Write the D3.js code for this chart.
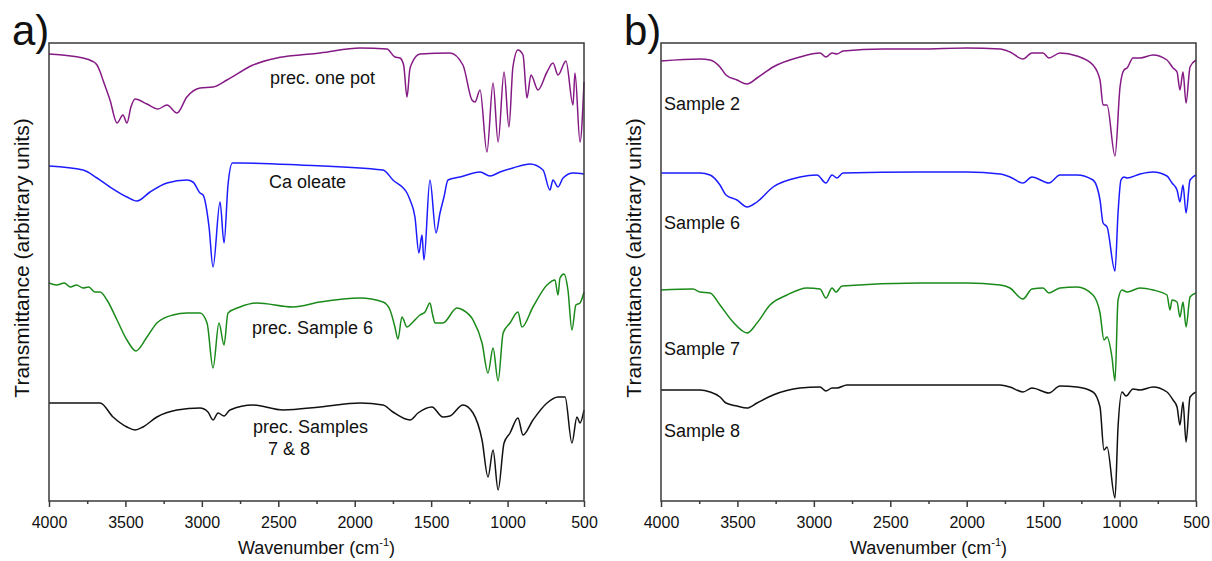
<!DOCTYPE html>
<html>
<head>
<meta charset="utf-8">
<script src="https://cdn.jsdelivr.net/npm/d3@7"></script>
<style>
  body { margin: 0; background: #fff; }
  svg { display: block; font-family: "Liberation Sans", Arial, sans-serif; }
</style>
</head>
<body>
<div id="chart"></div>
<script>
// x ticks shared by both panels
const majorTicks = [4000, 3500, 3000, 2500, 2000, 1500, 1000, 500];
const minorTicks = [3750, 3250, 2750, 2250, 1750, 1250, 750];

// ---- panel a: precursors ----
const onePotWn = [4000, 3777, 3720, 3686, 3665, 3647, 3601, 3555, 3516, 3490, 3464, 3437, 3359, 3287, 3228, 3163, 3098, 3012, 2927, 2836, 2665, 2509, 2358, 2227, 1965, 1789, 1737, 1704, 1680, 1658, 1640, 1625, 1573, 1377, 1292, 1233, 1213, 1180, 1135, 1095, 1062, 1023, 991, 965, 932, 899, 873, 847, 801, 742, 703, 670, 618, 572, 559, 526, 500];
const onePotT = [44.7, 44.3, 44.0, 43.6, 42.9, 42.1, 40.1, 37.8, 38.6, 37.8, 39.4, 40.2, 39.7, 39.2, 39.6, 38.8, 40.4, 41.3, 41.4, 42.1, 43.6, 44.3, 44.6, 44.8, 45.3, 45.2, 44.4, 44.3, 43.6, 40.4, 43.1, 43.8, 44.7, 44.8, 43.6, 40.1, 39.9, 41.1, 34.9, 41.8, 35.9, 42.9, 37.4, 43.4, 45.1, 44.6, 40.3, 42.6, 41.1, 42.9, 43.8, 42.6, 44.0, 39.6, 42.8, 35.9, 41.9];

const oleateWn = [4000, 3777, 3686, 3601, 3490, 3425, 3339, 3228, 3098, 3058, 3012, 2992, 2953, 2927, 2881, 2855, 2829, 2800, 2750, 2358, 1815, 1750, 1658, 1638, 1606, 1580, 1560, 1547, 1508, 1468, 1442, 1416, 1390, 1311, 1180, 1115, 1050, 965, 853, 768, 723, 703, 670, 637, 572, 500];
const oleateT = [33.5, 33.1, 32.3, 31.4, 30.4, 30.0, 30.9, 31.8, 32.1, 31.9, 30.8, 30.6, 27.4, 23.4, 29.9, 25.8, 31.6, 33.8, 33.8, 33.6, 33.1, 32.1, 30.8, 30.1, 28.4, 24.8, 26.6, 24.1, 32.1, 26.8, 28.8, 30.4, 32.1, 32.4, 32.9, 32.5, 32.9, 33.3, 33.7, 33.1, 31.1, 32.1, 31.4, 32.3, 32.8, 32.7];

const precS6Wn = [4000, 3950, 3900, 3860, 3820, 3777, 3740, 3700, 3666, 3621, 3555, 3490, 3431, 3359, 3294, 3189, 3098, 3012, 2966, 2927, 2888, 2855, 2829, 2751, 2640, 2404, 2227, 1965, 1815, 1769, 1737, 1717, 1691, 1658, 1625, 1573, 1540, 1508, 1490, 1475, 1423, 1331, 1292, 1226, 1167, 1128, 1095, 1062, 1029, 984, 932, 906, 834, 742, 690, 670, 657, 631, 605, 579, 553, 526, 500];
const precS6T = [21.8, 21.6, 21.8, 21.4, 21.6, 21.3, 21.4, 20.9, 20.9, 20.1, 18.1, 16.1, 15.0, 16.4, 17.8, 18.6, 18.8, 18.8, 17.8, 13.3, 17.8, 15.6, 18.8, 19.4, 19.8, 19.4, 19.9, 20.3, 19.9, 19.1, 17.4, 16.2, 18.4, 17.4, 17.8, 18.6, 18.9, 19.8, 18.6, 17.8, 17.8, 19.3, 19.1, 18.1, 15.8, 12.8, 15.3, 12.0, 16.8, 17.8, 18.9, 17.4, 19.4, 21.6, 22.1, 20.6, 22.3, 22.7, 21.1, 17.1, 19.6, 19.8, 20.9];

const precS78Wn = [4000, 3777, 3666, 3581, 3490, 3437, 3385, 3294, 3163, 3012, 2960, 2927, 2894, 2855, 2816, 2665, 2469, 2227, 1965, 1815, 1750, 1638, 1586, 1495, 1423, 1377, 1292, 1226, 1167, 1128, 1095, 1062, 1023, 984, 932, 899, 834, 742, 670, 624, 579, 546, 526, 500];
const precS78T = [9.8, 9.8, 9.8, 8.4, 7.4, 7.1, 7.4, 8.4, 9.1, 9.3, 8.9, 8.1, 8.8, 8.5, 9.1, 9.6, 9.1, 9.4, 9.8, 9.6, 8.9, 8.1, 8.8, 9.4, 8.4, 8.5, 9.6, 8.8, 6.1, 2.4, 5.1, 1.1, 5.8, 6.8, 8.3, 6.6, 8.1, 9.8, 10.4, 10.4, 5.8, 8.4, 7.8, 9.1];

// ---- panel b: samples ----
const s2Wn = [4000, 3745, 3679, 3614, 3575, 3503, 3437, 3372, 3267, 3091, 2960, 2921, 2881, 2849, 2809, 2548, 2306, 2000, 1782, 1717, 1632, 1573, 1501, 1462, 1390, 1279, 1174, 1128, 1108, 1082, 1030, 997, 971, 951, 912, 866, 781, 690, 650, 624, 605, 585, 565, 539, 500];
const s2T = [44.0, 44.2, 44.1, 43.4, 42.6, 42.1, 41.7, 42.3, 43.4, 44.4, 44.8, 44.4, 44.8, 44.7, 45.0, 45.2, 45.2, 45.3, 45.2, 44.9, 44.2, 44.8, 44.8, 44.3, 44.8, 44.5, 43.6, 42.1, 39.6, 39.6, 34.5, 41.4, 43.1, 43.3, 44.3, 44.3, 44.6, 44.1, 43.3, 42.9, 41.1, 42.9, 39.8, 43.4, 44.1];

const s6Wn = [4000, 3745, 3679, 3614, 3575, 3503, 3437, 3372, 3267, 3091, 2979, 2921, 2881, 2849, 2809, 2306, 2000, 1782, 1717, 1632, 1573, 1462, 1390, 1279, 1174, 1128, 1108, 1082, 1030, 1010, 991, 971, 951, 866, 781, 690, 657, 624, 605, 585, 565, 539, 500];
const s6T = [32.8, 32.8, 32.6, 31.6, 30.6, 30.1, 29.4, 29.9, 31.4, 32.4, 32.6, 31.8, 32.6, 32.3, 32.8, 32.9, 32.9, 32.7, 32.4, 31.8, 32.4, 31.8, 32.6, 32.6, 32.1, 30.1, 27.8, 27.4, 23.0, 28.8, 32.1, 32.4, 32.3, 32.7, 32.9, 32.5, 31.8, 31.1, 29.9, 31.6, 28.8, 32.1, 32.6];

const s7Wn = [4000, 3791, 3745, 3679, 3614, 3529, 3437, 3372, 3287, 3176, 3045, 2960, 2921, 2881, 2855, 2816, 2306, 2000, 1782, 1717, 1632, 1573, 1501, 1462, 1390, 1279, 1174, 1128, 1102, 1082, 1050, 1030, 1010, 984, 951, 866, 781, 690, 670, 657, 624, 605, 585, 565, 539, 500];
const s7T = [21.1, 21.2, 20.9, 20.8, 19.6, 17.9, 16.8, 17.8, 19.6, 20.6, 21.3, 21.2, 20.3, 21.3, 20.9, 21.5, 21.8, 21.8, 21.6, 21.3, 20.2, 21.2, 21.3, 20.8, 21.3, 21.4, 20.6, 18.8, 16.1, 16.4, 14.4, 12.0, 20.1, 21.1, 20.9, 21.3, 21.1, 20.6, 19.1, 20.1, 19.9, 18.4, 19.9, 17.4, 20.4, 20.8];

const s8Wn = [4000, 3745, 3679, 3614, 3575, 3503, 3437, 3372, 3267, 3091, 2960, 2921, 2881, 2849, 2783, 2306, 1782, 1717, 1632, 1573, 1462, 1390, 1279, 1174, 1128, 1102, 1082, 1030, 1010, 984, 958, 912, 866, 781, 690, 650, 624, 605, 585, 565, 539, 500];
const s8T = [11.1, 11.1, 10.9, 10.4, 9.8, 9.5, 9.3, 9.8, 10.6, 11.3, 11.4, 11.0, 11.3, 11.3, 11.6, 11.6, 11.6, 11.4, 10.9, 11.3, 10.8, 11.5, 11.4, 10.9, 9.4, 5.1, 5.4, 0.3, 7.4, 10.9, 10.5, 11.2, 11.1, 11.4, 10.9, 10.1, 9.4, 7.6, 9.9, 5.9, 10.4, 10.9];

const colors = { purple: "#851a85", blue: "#1c1cff", green: "#1a8a1a", black: "#111111" };

const panelA = {
  letter: "a)", left: 49,
  series: [
    { wn: onePotWn, t: onePotT, color: colors.purple },
    { wn: oleateWn, t: oleateT, color: colors.blue },
    { wn: precS6Wn, t: precS6T, color: colors.green },
    { wn: precS78Wn, t: precS78T, color: colors.black }
  ],
  labels: [
    { lines: ["prec. one pot"], x: 270, y: 84 },
    { lines: ["Ca oleate"], x: 269, y: 188 },
    { lines: ["prec. Sample 6"], x: 252, y: 334 },
    { lines: ["prec. Samples", "7 & 8"], x: 253, y: 433, dx2: 15 }
  ]
};
const panelB = {
  letter: "b)", left: 661,
  series: [
    { wn: s2Wn, t: s2T, color: colors.purple },
    { wn: s6Wn, t: s6T, color: colors.blue },
    { wn: s7Wn, t: s7T, color: colors.green },
    { wn: s8Wn, t: s8T, color: colors.black }
  ],
  labels: [
    { lines: ["Sample 2"], x: 664, y: 110 },
    { lines: ["Sample 6"], x: 664, y: 229 },
    { lines: ["Sample 7"], x: 664, y: 355 },
    { lines: ["Sample 8"], x: 664, y: 437 }
  ]
};

const W = 1212, H = 561;
const plotTop = 43, plotBottom = 501, plotW = 535;

const svg = d3.select("#chart").append("svg")
  .attr("width", W).attr("height", H);

function drawPanel(p) {
  const x = d3.scaleLinear().domain([4000, 500]).range([p.left, p.left + plotW]);
  const y = d3.scaleLinear().domain([0, 45.8]).range([plotBottom, plotTop]);
  const g = svg.append("g");

  // spectra
  const line = d3.line()
    .x(d => x(d[0]))
    .y(d => y(d[1]))
    .curve(d3.curveMonotoneX);
  p.series.forEach(s => {
    g.append("path")
      .datum(d3.zip(s.wn, s.t))
      .attr("fill", "none")
      .attr("stroke", s.color)
      .attr("stroke-width", 1.5)
      .attr("stroke-linejoin", "round")
      .attr("d", line);
  });

  // frame
  g.append("rect")
    .attr("x", p.left).attr("y", plotTop)
    .attr("width", plotW).attr("height", plotBottom - plotTop)
    .attr("fill", "none")
    .attr("stroke", "#3a3a3a")
    .attr("stroke-width", 1.5);

  // bottom axis, major + minor ticks
  const ax = g.append("g")
    .attr("transform", `translate(0,${plotBottom})`)
    .call(d3.axisBottom(x).tickValues(majorTicks).tickSize(6).tickPadding(10).tickFormat(d3.format("d")));
  ax.select(".domain").remove();
  ax.selectAll("line").attr("stroke", "#3a3a3a").attr("stroke-width", 1.5);
  ax.selectAll("text").attr("font-size", 16).attr("fill", "#111")
    .attr("font-family", "Liberation Sans, Arial, sans-serif");

  const axm = g.append("g")
    .attr("transform", `translate(0,${plotBottom})`)
    .call(d3.axisBottom(x).tickValues(minorTicks).tickSize(3).tickFormat(""));
  axm.select(".domain").remove();
  axm.selectAll("line").attr("stroke", "#3a3a3a").attr("stroke-width", 1.5);

  // axis titles
  const xt = g.append("text")
    .attr("x", p.left + plotW / 2).attr("y", 554)
    .attr("text-anchor", "middle")
    .attr("font-size", 18).attr("fill", "#111");
  xt.append("tspan").text("Wavenumber (cm");
  xt.append("tspan").attr("font-size", 11).attr("dy", -8).text("-1");
  xt.append("tspan").attr("dy", 8).text(")");

  g.append("text")
    .attr("transform", `translate(${p.left - 27},258) rotate(-90)`)
    .attr("text-anchor", "middle")
    .attr("dy", "0.35em")
    .attr("font-size", 21).attr("fill", "#111")
    .text("Transmittance (arbitrary units)");

  // panel letter
  g.append("text")
    .attr("x", p.left - 37).attr("y", 45)
    .attr("font-size", 42).attr("fill", "#111")
    .text(p.letter);

  // series labels
  p.labels.forEach(l => {
    const t = g.append("text")
      .attr("x", l.x).attr("y", l.y)
      .attr("font-size", 18).attr("fill", "#111");
    l.lines.forEach((s, i) => {
      t.append("tspan")
        .attr("x", l.x + (i ? l.dx2 : 0))
        .attr("dy", i ? 22 : 0)
        .text(s);
    });
  });
}

drawPanel(panelA);
drawPanel(panelB);
</script>
</body>
</html>
